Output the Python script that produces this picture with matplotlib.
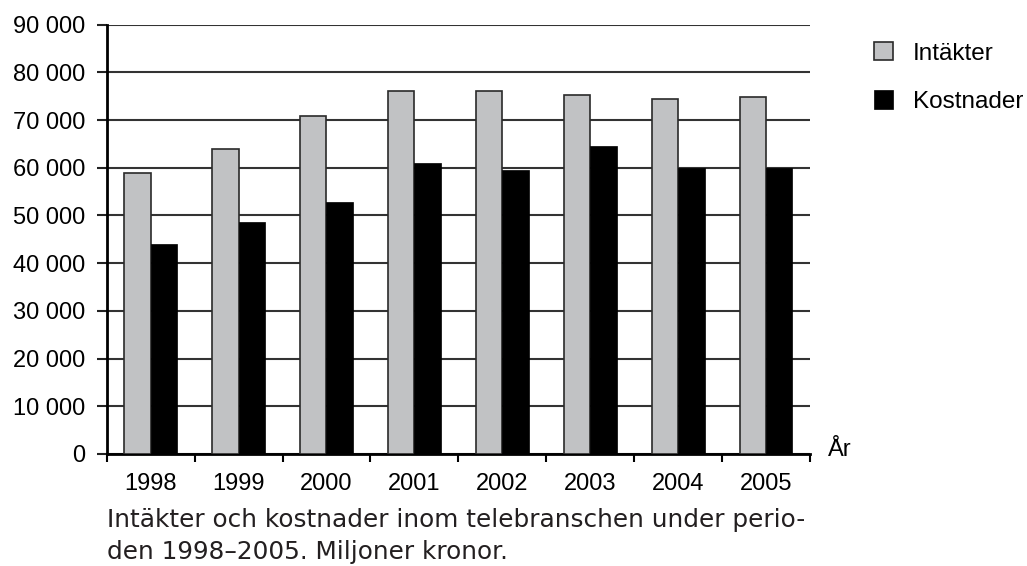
import matplotlib
matplotlib.use("Agg")
from matplotlib import pyplot as plt
from matplotlib.ticker import FuncFormatter, FixedLocator
import numpy as np

years = ["1998", "1999", "2000", "2001", "2002", "2003", "2004", "2005"]
intakter = [59000, 64000, 70800, 76200, 76000, 75200, 74500, 74800]
kostnader = [44000, 48600, 52800, 61000, 59600, 64500, 60000, 60000]
y_ticks = [0, 10000, 20000, 30000, 40000, 50000, 60000, 70000, 80000, 90000]

plt.rcParams["font.family"] = ["Liberation Sans", "DejaVu Sans"]

fig = plt.figure(figsize=(10.27, 5.66), dpi=100)
ax = fig.add_axes([0.1039, 0.1979, 0.6848, 0.7585])

x = np.arange(len(years))
w = 0.3
ax.bar(x - w / 2, intakter, w, color="#c1c2c4", edgecolor="#2a2a2a", linewidth=1.2,
       label="Intäkter", zorder=3)
ax.bar(x + w / 2, kostnader, w, color="black", edgecolor="black", linewidth=0.5,
       label="Kostnader", zorder=3)

ax.set_xlim(-0.5, len(years) - 0.5)
ax.set_ylim(0, 90000)
ax.set_yticks(y_ticks)
ax.yaxis.set_major_formatter(FuncFormatter(lambda v, p: f"{int(v):,}".replace(",", " ")))
ax.set_xticks(x)
ax.set_xticklabels(years)
ax.xaxis.set_minor_locator(FixedLocator(np.arange(-0.5, len(years), 1.0)))

ax.grid(axis="y", color="#333333", linewidth=1.5, zorder=0)
ax.set_axisbelow(True)
for s in ["top", "right"]:
    ax.spines[s].set_visible(False)
ax.spines["left"].set_linewidth(2)
ax.spines["bottom"].set_linewidth(2)

ax.tick_params(axis="y", length=7.2, width=1.5, pad=8, labelsize=17, color="#222222")
ax.tick_params(axis="x", which="major", length=0, pad=14, labelsize=17)
ax.tick_params(axis="x", which="minor", length=5.8, width=1.5, color="black")

ax.legend(loc="upper left", bbox_to_anchor=(0.851, 0.926), bbox_transform=fig.transFigure,
          frameon=False, fontsize=17.5, handlelength=0.8, handleheight=0.8,
          handletextpad=0.8, labelspacing=1.05, borderpad=0, borderaxespad=0)

fig.text(0.806, 0.195, "År", fontsize=17, va="baseline", ha="left")

cap = dict(fontsize=17.8, family=["DejaVu Sans"], color="#231f20", va="baseline", ha="left")
fig.text(0.104, 0.0684, "Intäkter och kostnader inom telebranschen under perio-", **cap)
fig.text(0.104, 0.0124, "den 1998–2005. Miljoner kronor.", **cap)

fig.savefig("out.png", dpi=100)
